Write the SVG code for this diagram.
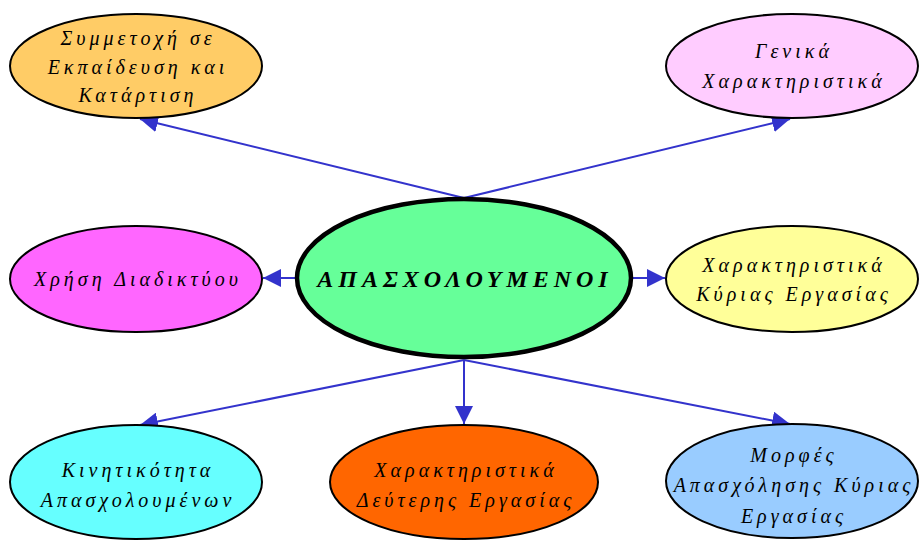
<svg xmlns="http://www.w3.org/2000/svg" width="919" height="540" viewBox="0 0 919 540">
<defs>
<style>
.n{stroke:#000;stroke-width:2}
.t{font-family:"Liberation Serif","DejaVu Serif",serif;font-style:italic;font-size:20px;letter-spacing:4px;text-anchor:middle;fill:#000}
.c{font-family:"Liberation Serif","DejaVu Serif",serif;font-style:italic;font-weight:bold;font-size:24px;letter-spacing:5px;text-anchor:middle;fill:#000}
.e{stroke:#3333cc;stroke-width:2;fill:none;marker-end:url(#ah)}
</style>
<marker id="ah" markerWidth="18" markerHeight="18" viewBox="0 0 18 18" refX="18" refY="9" orient="auto" markerUnits="userSpaceOnUse">
<path d="M0,0 L18,9 L0,18 z" fill="#3333cc"/>
</marker>
</defs>
<rect width="919" height="540" fill="#fff"/>
<g id="edges">
<path class="e" d="M464,198 L140,119"/>
<path class="e" d="M464,198 L790,119"/>
<path class="e" d="M296,278 L263,278"/>
<path class="e" d="M632,278 L665,278"/>
<path class="e" d="M464,360 L140,425"/>
<path class="e" d="M464,360 L464,424"/>
<path class="e" d="M464,360 L790,424"/>
</g>
<g id="center">
<ellipse cx="464" cy="278" rx="167" ry="79" fill="#66ff99" stroke="#000" stroke-width="4.5"/>
<text class="c" x="465" y="287">ΑΠΑΣΧΟΛΟΥΜΕΝΟΙ</text>
</g>
<g id="n_symmetoxi">
<ellipse class="n" cx="136" cy="66" rx="126" ry="52" fill="#ffcc66"/>
<text class="t" x="138" y="45">Συμμετοχή σε</text>
<text class="t" x="138" y="74">Εκπαίδευση και</text>
<text class="t" x="138" y="102">Κατάρτιση</text>
</g>
<g id="n_genika">
<ellipse class="n" cx="792" cy="66" rx="126" ry="52" fill="#ffccff"/>
<text class="t" x="794" y="58">Γενικά</text>
<text class="t" x="794" y="88">Χαρακτηριστικά</text>
</g>
<g id="n_xrisi">
<ellipse class="n" cx="136" cy="279" rx="126" ry="53" fill="#ff66ff"/>
<text class="t" x="138" y="286">Χρήση Διαδικτύου</text>
</g>
<g id="n_kyrias">
<ellipse class="n" cx="792" cy="279" rx="126" ry="53" fill="#ffff99"/>
<text class="t" x="794" y="272">Χαρακτηριστικά</text>
<text class="t" x="794" y="301">Κύριας Εργασίας</text>
</g>
<g id="n_kinitikotita">
<ellipse class="n" cx="136" cy="482" rx="126" ry="57" fill="#66ffff"/>
<text class="t" x="138" y="477">Κινητικότητα</text>
<text class="t" x="138" y="507">Απασχολουμένων</text>
</g>
<g id="n_defteris">
<ellipse class="n" cx="464" cy="482" rx="134" ry="57" fill="#ff6600"/>
<text class="t" x="466" y="477">Χαρακτηριστικά</text>
<text class="t" x="466" y="507">Δεύτερης Εργασίας</text>
</g>
<g id="n_morfes">
<ellipse class="n" cx="792" cy="481" rx="126" ry="57" fill="#99ccff"/>
<text class="t" x="794" y="462">Μορφές</text>
<text class="t" x="794" y="492">Απασχόλησης Κύριας</text>
<text class="t" x="794" y="523">Εργασίας</text>
</g>
</svg>
